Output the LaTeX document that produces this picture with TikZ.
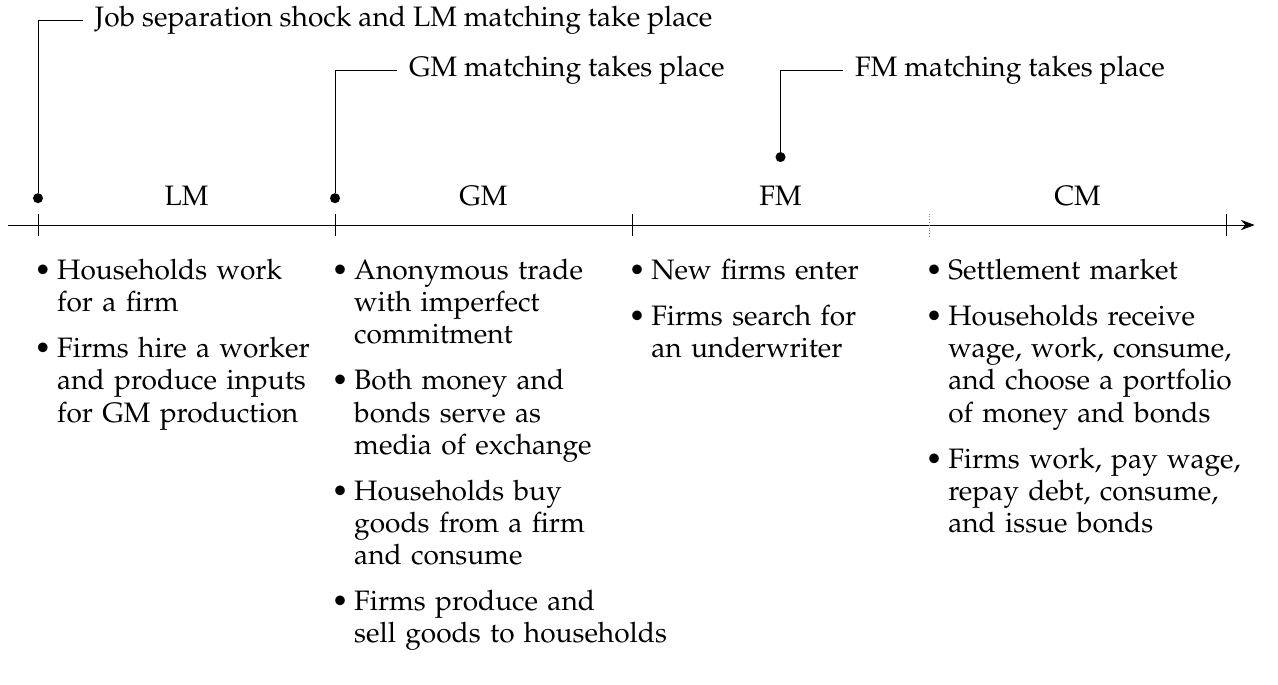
\documentclass[tikz,border=0pt]{standalone}
\usepackage[T1]{fontenc}
\usepackage{mathpazo}
\usepackage{enumitem}
\usetikzlibrary{arrows.meta,calc}

\begin{document}
\begin{tikzpicture}[
  font=\fontsize{14}{16}\selectfont,
  event/.style={circle, fill, inner sep=0pt, minimum size=5pt},
  eventlabel/.style={anchor=west, inner sep=0.2cm},
  phase/.style={anchor=base},
  tasks/.style={anchor=north west, inner sep=0pt, text width=6cm, align=left}
]

% ---------- Parameter (Phasenbreite, Achse) ----------
\def\phw{5.2}
\def\tickh{0.2}

% feste Boundingbox (Seitenverhaeltnis wie Vorlage)
\useasboundingbox (-0.665,-8.05) rectangle (21.71,3.94);

% ===================
% Zeitachse
% ===================
\draw[-{Stealth[length=2.4mm,width=1.8mm]}] (-0.52,0) -- (21.3,0);

\foreach \i in {0,1,2,3,4}
  \coordinate (t\i) at (\i*\phw,0);

\foreach \i in {0,1,2,4}
  \draw (t\i) +(0,\tickh) -- +(0,-\tickh);
\draw[densely dotted, gray] (t3) +(0,\tickh) -- +(0,-\tickh);

% Phasen
\node[phase] (lm) at ($(t0)!0.5!(t1)+(0,0.35)$) {LM};
\node[phase] (gm) at ($(t1)!0.5!(t2)+(0,0.35)$) {GM};
\node[phase] (fm) at ($(t2)!0.5!(t3)+(0,0.35)$) {FM};
\node[phase] (cm) at ($(t3)!0.5!(t4)+(0,0.35)$) {CM};

% ===================
% Ereignisse (Punkte + Beschriftung)
% ===================
\node[event] (e0) at (0,0.47) {};
\node[event] (e1) at (\phw,0.47) {};
\node[event] (e2) at (2.5*\phw,1.19) {};

\node[eventlabel] (jobtxt) at (0.79,3.59) {Job separation shock and LM matching take place};
\node[eventlabel] (gmtxt) at (6.29,2.71) {GM matching takes place};
\node[eventlabel] (fmtxt) at (14.1,2.71) {FM matching takes place};

\draw (e0) |- (jobtxt.west);
\draw (e1) |- (gmtxt.west);
\draw (e2) |- (fmtxt.west);

% ===================
% Aktivitaeten je Markt
% ===================
\setlist[itemize]{leftmargin=0.33cm, labelsep=0.1cm, nosep, itemsep=7pt}

\node[tasks] (lmlist) at (0,-0.385) {%
  \begin{itemize}
    \item Households work\\ for a firm
    \item Firms hire a worker\\ and produce inputs\\ for GM production
  \end{itemize}};

\node[tasks] (gmlist) at (\phw,-0.385) {%
  \begin{itemize}
    \item Anonymous trade\\ with imperfect\\ commitment
    \item Both money and\\ bonds serve as\\ media of exchange
    \item Households buy\\ goods from a firm\\ and consume
    \item Firms produce and\\ sell goods to households
  \end{itemize}};

\node[tasks] (fmlist) at (2*\phw,-0.385) {%
  \begin{itemize}
    \item New firms enter
    \item Firms search for\\ an underwriter
  \end{itemize}};

\node[tasks] (cmlist) at (3*\phw,-0.385) {%
  \begin{itemize}
    \item Settlement market
    \item Households receive\\ wage, work, consume,\\ and choose a portfolio\\ of money and bonds
    \item Firms work, pay wage,\\ repay debt, consume,\\ and issue bonds
  \end{itemize}};

\end{tikzpicture}
\end{document}
